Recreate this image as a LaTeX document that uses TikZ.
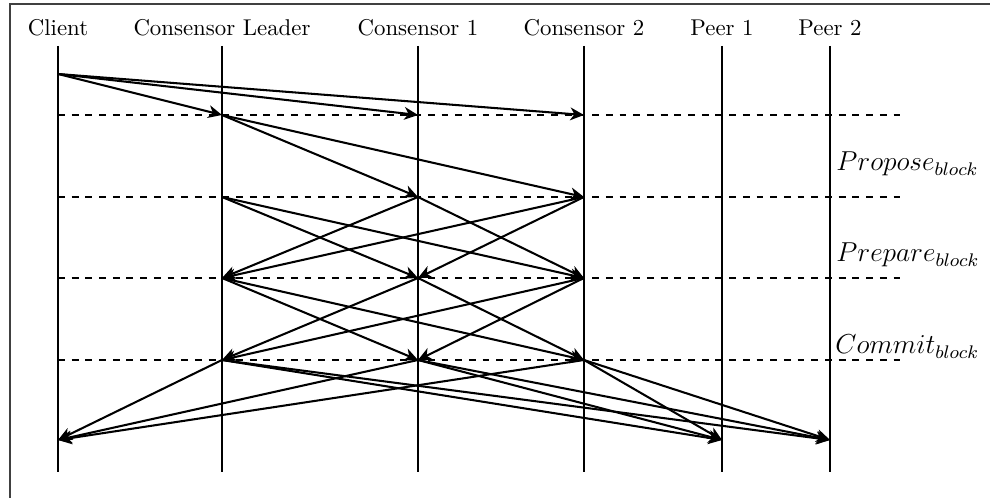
\documentclass[tikz,border=0pt]{standalone}
\usepackage{tikz}
\usetikzlibrary{positioning}
\usetikzlibrary{arrows.meta}
\tikzset{
    frame/.style = {draw=black!75, line width=0.5pt},
    lifeline/.style = {line width=0.9pt, draw=black},
    phase/.style = {line width=0.9pt, dashed, draw=black},
    actor/.style = {anchor=base, inner sep=0pt},
    phaselabel/.style = {anchor=base west, inner sep=0pt, font=\large},
    msg/.style = {draw, -{Stealth[length=6pt, width=5.6pt, inset=1.8pt]}, line width=0.9pt}, % message
}

\begin{document}
\begin{tikzpicture}[x=0.0154cm, y=-0.0154cm]
\useasboundingbox (0,0) rectangle (990,498);
\draw[frame] (10,498) -- (10,4) -- (990,4);
%
\node[actor] at (58, 36) (client) {Client};
\node[actor] at (222, 36) (leader) {Consensor Leader};
\node[actor] at (418, 36) (cons1) {Consensor 1};
\node[actor] at (584, 36) (cons2) {Consensor 2};
\node[actor] at (722, 36) (peer1) {Peer 1};
\node[actor] at (830, 36) (peer2) {Peer 2};
%
\draw[lifeline] (58, 46) -- (58, 472);
\draw[lifeline] (222, 46) -- (222, 472);
\draw[lifeline] (418, 46) -- (418, 472);
\draw[lifeline] (584, 46) -- (584, 472);
\draw[lifeline] (722, 46) -- (722, 472);
\draw[lifeline] (830, 46) -- (830, 472);
%
\draw[phase] (58, 115) -- (907, 115);
\draw[phase] (58, 197) -- (907, 197);
\draw[phase] (58, 278) -- (907, 278);
\draw[phase] (58, 360) -- (907, 360);
%
\node[phaselabel] at (836, 171) (propose) {$Propose_{block}$};
\node[phaselabel] at (836, 262) (prepare) {$Prepare_{block}$};
\node[phaselabel] at (835, 354) (commit) {$Commit_{block}$};
%
\coordinate (cli0) at (58, 74);
\coordinate (cli4) at (58, 440);
\coordinate (ldr1) at (222, 115);
\coordinate (ldr2) at (222, 197);
\coordinate (ldr3) at (222, 278);
\coordinate (ldr4) at (222, 360);
\coordinate (csa1) at (418, 115);
\coordinate (csa2) at (418, 197);
\coordinate (csa3) at (418, 278);
\coordinate (csa4) at (418, 360);
\coordinate (csb1) at (584, 115);
\coordinate (csb2) at (584, 197);
\coordinate (csb3) at (584, 278);
\coordinate (csb4) at (584, 360);
\coordinate (pra4) at (722, 440);
\coordinate (prb4) at (830, 440);
%
\path (cli0) edge[msg] (ldr1) edge[msg] (csa1) edge[msg] (csb1);
\path (ldr1) edge[msg] (csa2) edge[msg] (csb2);
%
\path (ldr2) edge[msg] (csa3) edge[msg] (csb3);
\path (csa2) edge[msg] (ldr3) edge[msg] (csb3);
\path (csb2) edge[msg] (ldr3) edge[msg] (csa3);
%
\path (ldr3) edge[msg] (csa4) edge[msg] (csb4);
\path (csa3) edge[msg] (ldr4) edge[msg] (csb4);
\path (csb3) edge[msg] (ldr4) edge[msg] (csa4);
%
\path (ldr4) edge[msg] (cli4) edge[msg] (pra4) edge[msg] (prb4);
\path (csa4) edge[msg] (cli4) edge[msg] (pra4) edge[msg] (prb4);
\path (csb4) edge[msg] (cli4) edge[msg] (pra4) edge[msg] (prb4);

\end{tikzpicture}
\end{document}
